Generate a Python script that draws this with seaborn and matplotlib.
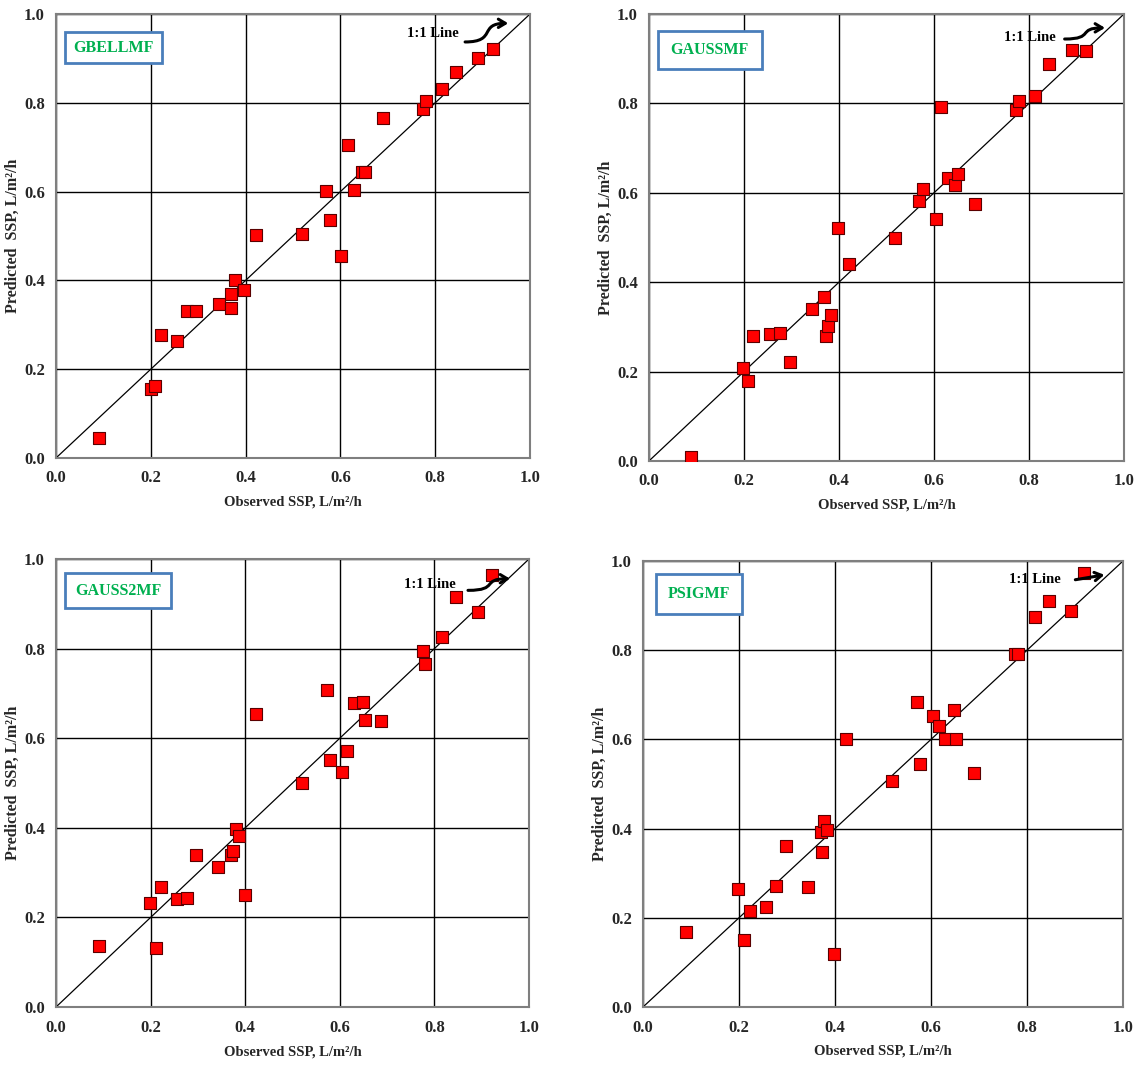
import matplotlib
matplotlib.use("Agg")
import matplotlib.pyplot as plt
import seaborn as sns
import pandas as pd
from matplotlib.patches import Rectangle, FancyArrowPatch
from matplotlib.path import Path

# ---------------- data ----------------
titles = ["GBELLMF", "GAUSSMF", "GAUSS2MF", "PSIGMF"]

obs_gbell = [0.091, 0.200, 0.209, 0.221, 0.255, 0.277, 0.296, 0.344, 0.370, 0.369, 0.378, 0.397, 0.422, 0.519,
             0.570, 0.579, 0.602, 0.615, 0.628, 0.646, 0.652, 0.689, 0.774, 0.780, 0.815, 0.844, 0.891, 0.922]
pred_gbell = [0.044, 0.155, 0.163, 0.277, 0.263, 0.330, 0.330, 0.347, 0.337, 0.370, 0.401, 0.379, 0.502, 0.505,
              0.602, 0.536, 0.454, 0.705, 0.604, 0.644, 0.645, 0.765, 0.786, 0.805, 0.831, 0.870, 0.900, 0.922]

obs_gauss = [0.088, 0.198, 0.209, 0.220, 0.254, 0.276, 0.296, 0.343, 0.369, 0.372, 0.377, 0.383, 0.397, 0.422, 0.518,
             0.569, 0.576, 0.604, 0.615, 0.629, 0.644, 0.651, 0.686, 0.773, 0.779, 0.812, 0.843, 0.890, 0.921]
pred_gauss = [0.009, 0.207, 0.179, 0.279, 0.285, 0.286, 0.221, 0.340, 0.366, 0.280, 0.302, 0.327, 0.521, 0.441, 0.499,
              0.581, 0.609, 0.542, 0.792, 0.634, 0.618, 0.642, 0.576, 0.786, 0.806, 0.817, 0.887, 0.919, 0.917]

obs_gauss2 = [0.090, 0.198, 0.211, 0.223, 0.255, 0.276, 0.297, 0.343, 0.370, 0.374, 0.380, 0.386, 0.399, 0.423, 0.519,
              0.572, 0.580, 0.604, 0.616, 0.630, 0.648, 0.653, 0.688, 0.775, 0.780, 0.817, 0.845, 0.892, 0.921]
pred_gauss2 = [0.137, 0.233, 0.132, 0.268, 0.240, 0.244, 0.340, 0.312, 0.339, 0.348, 0.397, 0.382, 0.250, 0.654, 0.500,
               0.708, 0.552, 0.524, 0.572, 0.678, 0.681, 0.641, 0.639, 0.794, 0.766, 0.825, 0.915, 0.881, 0.964]

obs_psig = [0.090, 0.198, 0.211, 0.222, 0.256, 0.278, 0.297, 0.343, 0.370, 0.373, 0.377, 0.383, 0.398, 0.423, 0.519,
            0.570, 0.578, 0.604, 0.616, 0.629, 0.647, 0.652, 0.689, 0.774, 0.782, 0.816, 0.845, 0.892, 0.919]
pred_psig = [0.169, 0.265, 0.151, 0.215, 0.224, 0.272, 0.362, 0.270, 0.392, 0.347, 0.416, 0.398, 0.119, 0.600, 0.507,
             0.683, 0.546, 0.653, 0.630, 0.602, 0.666, 0.600, 0.524, 0.791, 0.791, 0.875, 0.911, 0.889, 0.974]

one_to_one = [0.0, 1.0]
tick_values = [0.0, 0.2, 0.4, 0.6, 0.8, 1.0]
tick_labels = ["0.0", "0.2", "0.4", "0.6", "0.8", "1.0"]

observed = [obs_gbell, obs_gauss, obs_gauss2, obs_psig]
predicted = [pred_gbell, pred_gauss, pred_gauss2, pred_psig]

# ---------------- style ----------------
sns.set_style("white")
plt.rcParams["font.family"] = ["Liberation Serif", "DejaVu Serif"]
plt.rcParams["font.weight"] = "bold"

fig = plt.figure(figsize=(11.34, 10.68), dpi=100)

axes_pos = [
    [0.0494, 0.5712, 0.4180, 0.4157],
    [0.5723, 0.5684, 0.4189, 0.4185],
    [0.0494, 0.0571, 0.4171, 0.4195],
    [0.5670, 0.0571, 0.4233, 0.4176],
]
# box (x0, y0, w, h) in axes coords
boxes = [
    (0.020, 0.889, 0.204, 0.071),
    (0.018, 0.878, 0.220, 0.083),
    (0.020, 0.890, 0.224, 0.078),
    (0.028, 0.882, 0.179, 0.088),
]
line_text_pos = [(0.741, 0.955), (0.747, 0.948), (0.735, 0.943), (0.762, 0.959)]
arrows = [
    ((0.863, 0.937), (0.954, 0.979), True),
    ((0.875, 0.944), (0.960, 0.969), True),
    ((0.871, 0.930), (0.960, 0.956), True),
    ((0.895, 0.957), (0.967, 0.970), False),
]

for i in range(4):
    ax = fig.add_axes(axes_pos[i])
    df = pd.DataFrame({"obs": observed[i], "pred": predicted[i]})
    line_df = pd.DataFrame({"x": one_to_one, "y": one_to_one})
    sns.lineplot(data=line_df, x="x", y="y", ax=ax, color="black", lw=0.9, zorder=2)
    sns.scatterplot(data=df, x="obs", y="pred", ax=ax, marker="s", s=80,
                    color="#FF0000", edgecolor="#5a0000", linewidth=0.8, zorder=3)
    ax.set_xlim(0, 1)
    ax.set_ylim(0, 1)
    ax.set_xticks(tick_values)
    ax.set_yticks(tick_values)
    ax.set_xticklabels(tick_labels, fontsize=12, fontweight="bold")
    ax.set_yticklabels(tick_labels, fontsize=12, fontweight="bold")
    ax.tick_params(axis="x", length=0, pad=9)
    ax.tick_params(axis="y", length=0, pad=8)
    ax.grid(True, color="black", lw=1.0)
    ax.set_axisbelow(True)
    for sp in ax.spines.values():
        sp.set_color("#7f7f7f")
        sp.set_linewidth(1.5)
    ax.set_xlabel("Observed SSP, L/m²/h", fontsize=10.5, fontweight="bold")
    ax.set_ylabel("Predicted  SSP, L/m²/h", fontsize=11.5, fontweight="bold")
    ax.xaxis.set_label_coords(0.5, -0.085)
    ax.yaxis.set_label_coords(-0.074, 0.5)

    bx, by, bw, bh = boxes[i]
    ax.add_patch(Rectangle((bx, by), bw, bh, transform=ax.transAxes, facecolor="white",
                           edgecolor="#4a7ebb", lw=2, zorder=5))
    ax.text(bx + bw / 2, by + bh / 2, titles[i], transform=ax.transAxes, ha="center", va="center",
            color="#00B050", fontsize=11.5, fontweight="bold", zorder=6)

    tx, ty = line_text_pos[i]
    ax.text(tx, ty, "1:1 Line", transform=ax.transAxes, ha="left", va="center",
            fontsize=10.5, fontweight="bold", color="black", zorder=6)
    (sx, sy), (ex, ey), curved = arrows[i]
    if curved:
        dx = ex - sx
        path = Path([(sx, sy), (sx + 0.75 * dx, sy), (sx + 0.3 * dx, ey), (ex, ey)],
                    [Path.MOVETO, Path.CURVE4, Path.CURVE4, Path.CURVE4])
        arr = FancyArrowPatch(path=path, transform=ax.transAxes,
                              arrowstyle="->,head_length=5,head_width=3",
                              color="black", lw=2.2, zorder=7)
    else:
        arr = FancyArrowPatch((sx, sy), (ex, ey), transform=ax.transAxes,
                              arrowstyle="->,head_length=5,head_width=3",
                              color="black", lw=2.2, zorder=7)
    ax.add_patch(arr)

fig.savefig("out.png", dpi=100)
